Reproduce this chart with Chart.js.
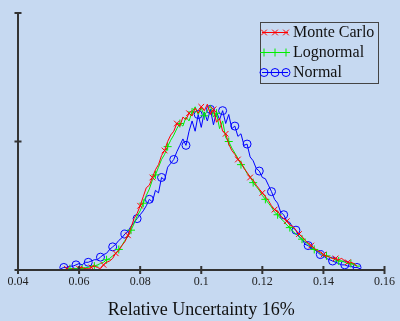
<!DOCTYPE html>
<html>
<head>
<meta charset="utf-8">
<script src="https://cdn.jsdelivr.net/npm/chart.js@4.4.1/dist/chart.umd.min.js"></script>
<style>
  body { margin: 0; background: #c6d9f1; }
  #wrap { width: 400px; height: 321px; }
</style>
</head>
<body>
<div id="wrap"><canvas id="myChart" width="400" height="321"></canvas></div>
<script>
// shared x grid (relative uncertainty)
const xs = [
  0.054, 0.055, 0.056, 0.057, 0.058, 0.059, 0.060, 0.061, 0.062, 0.063,
  0.064, 0.065, 0.066, 0.067, 0.068, 0.069, 0.070, 0.071, 0.072, 0.073,
  0.074, 0.075, 0.076, 0.077, 0.078, 0.079, 0.080, 0.081, 0.082, 0.083,
  0.084, 0.085, 0.086, 0.087, 0.088, 0.089, 0.090, 0.091, 0.092, 0.093,
  0.094, 0.095, 0.096, 0.097, 0.098, 0.099, 0.100, 0.101, 0.102, 0.103,
  0.104, 0.105, 0.106, 0.107, 0.108, 0.109, 0.110, 0.111, 0.112, 0.113,
  0.114, 0.115, 0.116, 0.117, 0.118, 0.119, 0.120, 0.121, 0.122, 0.123,
  0.124, 0.125, 0.126, 0.127, 0.128, 0.129, 0.130, 0.131, 0.132, 0.133,
  0.134, 0.135, 0.136, 0.137, 0.138, 0.139, 0.140, 0.141, 0.142, 0.143,
  0.144, 0.145, 0.146, 0.147, 0.148, 0.149, 0.150, 0.151, 0.152
];

const monteCarlo = [
  null, 0.00, 0.01, 0.00, 0.01, 0.00, 0.01, 0.02, 0.01, 0.01,
  0.02, 0.03, 0.02, 0.01, 0.04, 0.06, 0.07, 0.09, 0.13, 0.15,
  0.19, 0.22, 0.27, 0.33, 0.40, 0.44, 0.50, 0.57, 0.64, 0.66,
  0.72, 0.78, 0.82, 0.89, 0.93, 1.00, 1.05, 1.08, 1.14, 1.12,
  1.19, 1.17, 1.22, 1.20, 1.26, 1.22, 1.27, 1.24, 1.29, 1.21,
  1.25, 1.15, 1.18, 1.08, 1.06, 0.98, 0.93, 0.90, 0.86, 0.84,
  0.79, 0.76, 0.72, 0.70, 0.66, 0.63, 0.60, 0.57, 0.54, 0.50,
  0.47, 0.46, 0.42, 0.40, 0.38, 0.35, 0.34, 0.31, 0.28, 0.26,
  0.23, 0.21, 0.19, 0.17, 0.15, 0.14, 0.12, 0.11, 0.10, 0.09,
  0.09, 0.08, 0.09, 0.07, 0.06, 0.06, 0.05, 0.03, null
];

const lognormal = [
  null, null, 0.00, 0.01, 0.01, 0.01, 0.02, 0.01, 0.02, 0.02,
  0.03, 0.03, 0.04, 0.05, 0.06, 0.08, 0.09, 0.11, 0.13, 0.16,
  0.19, 0.23, 0.26, 0.31, 0.36, 0.42, 0.46, 0.52, 0.58, 0.63,
  0.70, 0.74, 0.80, 0.86, 0.90, 0.96, 1.01, 1.05, 1.10, 1.14,
  1.12, 1.19, 1.16, 1.23, 1.27, 1.21, 1.26, 1.20, 1.24, 1.28,
  1.19, 1.22, 1.10, 1.16, 1.03, 1.00, 0.95, 0.91, 0.87, 0.82,
  0.80, 0.75, 0.73, 0.68, 0.65, 0.62, 0.58, 0.55, 0.52, 0.49,
  0.45, 0.43, 0.40, 0.38, 0.35, 0.33, 0.30, 0.28, 0.26, 0.24,
  0.22, 0.20, 0.18, 0.16, 0.15, 0.13, 0.12, 0.11, 0.10, 0.09,
  0.08, 0.07, 0.07, 0.06, 0.05, 0.05, 0.04, 0.03, 0.03
];

const normal = [
  0.01, 0.02, 0.02, 0.03, 0.03, 0.04, 0.05, 0.04, 0.06, 0.06,
  0.07, 0.08, 0.08, 0.10, 0.12, 0.13, 0.16, 0.18, 0.20, 0.23,
  0.25, 0.28, 0.30, 0.34, 0.37, 0.40, 0.43, 0.46, 0.50, 0.55,
  0.53, 0.62, 0.60, 0.72, 0.70, 0.80, 0.83, 0.86, 0.92, 0.97,
  1.02, 0.97, 1.08, 1.16, 1.08, 1.21, 1.11, 1.23, 1.16, 1.25,
  1.13, 1.23, 1.17, 1.24, 1.14, 1.21, 1.10, 1.12, 1.04, 1.06,
  0.97, 0.98, 0.88, 0.85, 0.79, 0.77, 0.72, 0.71, 0.66, 0.61,
  0.55, 0.52, 0.45, 0.43, 0.38, 0.37, 0.33, 0.31, 0.26, 0.24,
  0.20, 0.19, 0.17, 0.16, 0.14, 0.12, 0.11, 0.09, 0.08, 0.07,
  0.06, 0.05, 0.04, 0.04, 0.03, 0.03, 0.02, 0.02, 0.01
];

const xTicks = [0.04, 0.06, 0.08, 0.1, 0.12, 0.14, 0.16];
const yTicks = [0, 1, 2];

function toPoints(ys) {
  const pts = [];
  ys.forEach((v, i) => {
    if (v !== null) pts.push({ x: xs[i], y: v });
  });
  return pts;
}

function markerEvery(c) {
  return c.dataIndex % 4 === 1 ? 4 : 0;
}

const series = [
  { label: 'Monte Carlo', data: monteCarlo, color: '#ff0000', style: 'crossRot' },
  { label: 'Lognormal', data: lognormal, color: '#00ee00', style: 'cross' },
  { label: 'Normal', data: normal, color: '#0000ff', style: 'circle' }
];

const axesAndLegend = {
  id: 'axesAndLegend',
  afterDraw(chart) {
    const ctx = chart.ctx;
    const x = chart.scales.x;
    const y = chart.scales.y;
    const left = chart.chartArea.left;
    const y0 = y.getPixelForValue(0);

    ctx.save();
    ctx.strokeStyle = '#333';
    ctx.lineWidth = 2;
    ctx.beginPath();
    ctx.moveTo(left, y.getPixelForValue(2));
    ctx.lineTo(left, y0);
    ctx.lineTo(x.getPixelForValue(0.16), y0);
    yTicks.forEach(v => {
      const py = y.getPixelForValue(v);
      ctx.moveTo(left - 3.5, py);
      ctx.lineTo(left + 3.5, py);
    });
    xTicks.forEach(v => {
      const px = x.getPixelForValue(v);
      ctx.moveTo(px, y0 - 4);
      ctx.lineTo(px, y0 + 4);
    });
    ctx.stroke();

    // legend box
    ctx.lineWidth = 1;
    ctx.strokeStyle = '#444';
    ctx.strokeRect(260.5, 22.5, 118, 61);
    ctx.font = '16px "Liberation Serif"';
    ctx.textBaseline = 'middle';
    series.forEach((s, i) => {
      const cy = 32.5 + i * 20;
      ctx.strokeStyle = s.color;
      ctx.fillStyle = 'rgba(0,0,0,0)';
      ctx.lineWidth = 1;
      ctx.beginPath();
      ctx.moveTo(262, cy);
      ctx.lineTo(288, cy);
      ctx.stroke();
      [264, 275, 286].forEach(mx => {
        Chart.helpers.drawPoint(ctx, { pointStyle: s.style, radius: 4, rotation: 0, borderWidth: 1 }, mx, cy);
      });
      ctx.fillStyle = '#111';
      ctx.fillText(s.label, 293, cy + 0.5);
    });
    ctx.restore();
  }
};

new Chart(document.getElementById('myChart'), {
  type: 'line',
  data: {
    datasets: series.map(s => ({
      label: s.label,
      data: toPoints(s.data),
      borderColor: s.color,
      backgroundColor: 'rgba(0,0,0,0)',
      borderWidth: 1,
      pointStyle: s.style,
      pointRadius: markerEvery,
      pointBorderColor: s.color,
      pointBackgroundColor: 'rgba(0,0,0,0)',
      pointBorderWidth: 1,
      tension: 0
    }))
  },
  options: {
    responsive: false,
    animation: false,
    layout: { padding: { left: 18, right: 14, top: 13, bottom: 0 } },
    plugins: { legend: { display: false }, tooltip: { enabled: false } },
    scales: {
      x: {
        type: 'linear',
        min: 0.04,
        max: 0.16,
        grid: { display: false, drawTicks: false },
        border: { display: false },
        ticks: {
          stepSize: 0.02,
          padding: 5,
          color: '#222',
          font: { family: 'Liberation Serif', size: 12 },
          callback: v => String(+v.toFixed(2))
        },
        title: {
          display: true,
          text: 'Relative Uncertainty 16%',
          color: '#111',
          font: { family: 'Liberation Serif', size: 18 },
          padding: { top: 5, bottom: 0 }
        }
      },
      y: {
        display: false,
        min: 0,
        max: 2
      }
    }
  },
  plugins: [axesAndLegend]
});
</script>
</body>
</html>
